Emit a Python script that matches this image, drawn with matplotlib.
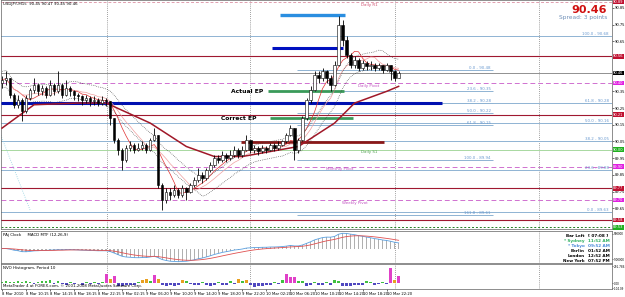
import matplotlib
matplotlib.use('Agg')
import matplotlib.pyplot as plt
import matplotlib.transforms as mtransforms
import numpy as np
import pandas as pd

''' USDJPY chart with levels, MACD MTF and NVO histogram '''

open0 = 90.40
close = [90.42, 90.43, 90.33, 90.27, 90.30, 90.23, 90.31, 90.36, 90.39, 90.35,
         90.37, 90.33, 90.39, 90.35, 90.39, 90.33, 90.37, 90.35, 90.33, 90.32,
         90.30, 90.31, 90.29, 90.30, 90.28, 90.30, 90.29, 90.19, 90.06, 90.00,
         89.94, 90.01, 90.03, 90.00, 90.01, 90.03, 90.00, 90.06, 90.09, 89.79,
         89.70, 89.75, 89.73, 89.76, 89.73, 89.77, 89.75, 89.79, 89.82, 89.85,
         89.83, 89.88, 89.91, 89.95, 89.94, 89.97, 89.95, 89.97, 90.00, 89.97,
         90.00, 90.06, 90.00, 90.01, 89.99, 90.01, 90.00, 90.03, 90.01, 90.03,
         90.05, 90.09, 90.13, 90.00, 90.06, 90.19, 90.30, 90.36, 90.45, 90.43,
         90.47, 90.43, 90.39, 90.51, 90.75, 90.66, 90.57, 90.51, 90.54, 90.49,
         90.52, 90.50, 90.51, 90.49, 90.51, 90.48, 90.51, 90.47, 90.43, 90.46]
high = [90.44, 90.47, 90.43, 90.34, 90.33, 90.31, 90.33, 90.37, 90.43, 90.40,
        90.39, 90.38, 90.42, 90.40, 90.47, 90.40, 90.42, 90.38, 90.36, 90.34,
        90.33, 90.33, 90.32, 90.32, 90.31, 90.32, 90.31, 90.29, 90.19, 90.07,
        90.01, 90.03, 90.05, 90.04, 90.04, 90.05, 90.04, 90.07, 90.13, 90.09,
        89.80, 89.77, 89.77, 89.79, 89.77, 89.79, 89.78, 89.80, 89.84, 89.89,
        89.87, 89.89, 89.93, 89.97, 89.97, 89.99, 89.98, 90.00, 90.02, 90.01,
        90.02, 90.09, 90.06, 90.03, 90.02, 90.03, 90.02, 90.04, 90.04, 90.05,
        90.06, 90.10, 90.15, 90.13, 90.07, 90.20, 90.31, 90.38, 90.47, 90.47,
        90.49, 90.48, 90.45, 90.53, 90.80, 90.78, 90.68, 90.58, 90.56, 90.55,
        90.54, 90.53, 90.53, 90.52, 90.52, 90.51, 90.52, 90.51, 90.48, 90.47]
low = [90.37, 90.39, 90.31, 90.25, 90.25, 90.17, 90.22, 90.30, 90.34, 90.33,
       90.33, 90.31, 90.32, 90.33, 90.34, 90.31, 90.32, 90.32, 90.30, 90.29,
       90.27, 90.28, 90.26, 90.27, 90.26, 90.27, 90.26, 90.15, 90.04, 89.97,
       89.88, 89.93, 89.99, 89.98, 89.99, 90.00, 89.98, 89.99, 90.05, 89.77,
       89.64, 89.68, 89.70, 89.72, 89.71, 89.72, 89.70, 89.74, 89.78, 89.81,
       89.80, 89.82, 89.87, 89.90, 89.92, 89.93, 89.93, 89.94, 89.96, 89.95,
       89.96, 89.99, 89.98, 89.98, 89.97, 89.98, 89.98, 89.99, 89.99, 90.00,
       90.02, 90.04, 90.08, 89.94, 89.98, 90.05, 90.18, 90.28, 90.35, 90.40,
       90.41, 90.40, 90.35, 90.38, 90.50, 90.62, 90.55, 90.49, 90.49, 90.47,
       90.48, 90.48, 90.48, 90.47, 90.48, 90.46, 90.47, 90.42, 90.41, 90.43]

# slow moving average (candle index, price)
slow_ma_idx = [0, 8, 19, 26, 37, 46, 53, 60, 74, 83, 88, 96, 99]
slow_ma_val = [90.13, 90.27, 90.28, 90.28, 90.16, 90.02, 89.96, 89.96, 90.02, 90.16, 90.28, 90.35, 90.38]

nvo = [25, 30, 15, 20, 35, 20, 30, 25, -10, 15,
       40, 35, 45, -15, 30, -10, -20, 15, -15, 10,
       -20, 20, -10, 15, -5, 20, 150, 60, 110, -40,
       -50, -30, -20, -25, 15, 50, 70, 40, 130, 60,
       -30, -45, -35, -40, -20, 55, 30, -15, -30, -25,
       20, -35, -40, -30, 25, -20, -35, 30, -15, 65,
       40, 55, -20, -55, -50, -40, -25, -20, 15, -15,
       45, 150, 100, 95, 40, 30, -40, -30, 20, -35,
       -25, 25, -20, 45, 35, -40, -45, -40, -35, -30,
       -20, 30, 25, -25, -15, 20, -10, 240, 50, 115]

time_labels = ['8 Mar 2010', '8 Mar 10:15', '8 Mar 14:15', '8 Mar 18:15', '8 Mar 22:15',
               '9 Mar 02:15', '9 Mar 06:20', '9 Mar 10:20', '9 Mar 14:20', '9 Mar 18:20',
               '9 Mar 22:20', '10 Mar 02:20', '10 Mar 06:20', '10 Mar 10:20', '10 Mar 14:20',
               '10 Mar 18:20', '10 Mar 22:20']
day_breaks = [26.25, 62, 98, 134]

sr_levels = [90.56, 90.21, 89.77, 89.58]
pivot_names = ['Daily Pivot', 'Monthly Pivot', 'Weekly Pivot']
pivot_levels = [90.40, 89.90, 89.70]
daily_s1 = 90.00
daily_r1 = 90.885
bid = 90.46
blue_level = 90.28
fib_left_pct = ['0.0', '23.6', '38.2', '50.0', '61.8', '100.0', '161.8']
fib_left_px = [90.48, 90.35, 90.28, 90.22, 90.15, 89.94, 89.61]
fib_right_pct = ['100.0', '61.8', '50.0', '38.2', '23.6', '0.0']
fib_right_px = [90.68, 90.28, 90.16, 90.05, 89.88, 89.63]
actual_ep = 90.35
correct_ep = 90.19
red_zone = 90.045
navy_zone = 90.61
sky_zone = 90.81

clock_names = ['Bar Left', '* Sydney', '* Tokyo', 'Berlin', 'London', 'New York']
clock_times = ['[ 07:08 ]', '11:52 AM', '09:52 AM', '01:52 AM', '12:52 AM', '07:52 PM']

W, H = 625, 297
def fy(y):
    return 1 - y / H

fig = plt.figure(figsize=(W / 100, H / 100), dpi=100)
ax = fig.add_axes([1 / W, fy(229), 611 / W, 229 / H])
ax2 = fig.add_axes([1 / W, fy(263), 611 / W, 32 / H], sharex=ax)
ax3 = fig.add_axes([1 / W, fy(289), 611 / W, 25 / H], sharex=ax)

fs = 3.4
afs = 2.6
xl = (-0.25, 152.25)
n = len(close)
idx = np.arange(n)
c = np.array(close)
o = np.array([open0] + close[:-1])

for a in (ax, ax2, ax3):
    for s in a.spines.values():
        s.set_linewidth(0.5)
        s.set_color('#606060')
    a.yaxis.tick_right()
    a.tick_params(axis='y', labelsize=afs, length=1.2, width=0.4, pad=0.6)
    a.tick_params(axis='x', length=0)
    for d in day_breaks:
        a.axvline(d, color='#808080', lw=0.6, ls=(0, (1, 1.5)), zorder=1)
ax2.tick_params(axis='y', labelsize=2.0, pad=0.3, length=0.8)
ax3.tick_params(axis='y', labelsize=2.0, pad=0.3, length=0.8)
ax.set_xlim(*xl)
ax.set_ylim(89.526, 90.897)
tags = [(90.885, '#c01030'), (90.56, '#c01030'), (bid, 'black'), (90.40, '#e020e0'),
        (90.21, '#c01030'), (90.00, '#20b020'), (89.90, '#e020e0'), (89.77, '#c01030'),
        (89.70, '#e020e0'), (89.58, '#c01030'), (89.535, '#20b020')]
ticks = [t for t in np.arange(89.55, 90.86, 0.10)
         if min(abs(t - p) for p, _ in tags) > 0.018]
ax.set_yticks(ticks)
ax.yaxis.set_major_formatter(plt.FormatStrFormatter('%.2f'))
plt.setp(ax.get_xticklabels(), visible=False)
plt.setp(ax2.get_xticklabels(), visible=False)

# full-width levels
for p in fib_right_px:
    ax.axhline(p, color='#8fb3d3', lw=0.7, zorder=2)
for p in sr_levels:
    ax.axhline(p, color='#a01830', lw=0.8, zorder=2)
for p in pivot_levels:
    ax.axhline(p, color='#d070d0', lw=0.7, ls=(0, (5, 3)), zorder=2)
ax.axhline(daily_s1, color='#a8d8a0', lw=0.7, zorder=2)
ax.axhline(daily_r1, color='#e0a0b0', lw=0.7, ls=(0, (3, 2)), zorder=2)
ax.axhline(89.535, color='#208020', lw=0.7, ls=(0, (2, 2)), zorder=2)
ax.axhline(bid, color='#909090', lw=0.7, zorder=2)
ax.hlines(blue_level, -0.25, 109.75, color='#0010b0', lw=2.2, zorder=3)

# fib left set
ax.hlines(fib_left_px, 73.75, 122.5, color='#8fb3d3', lw=0.7, zorder=2)
for pct, p in zip(fib_left_pct, fib_left_px):
    ax.text(122, p, f'{pct} - {p:.2f}', color='#6a9ad0', fontsize=fs - 0.5,
            ha='right', va='bottom', zorder=5)
for pct, p in zip(fib_right_pct, fib_right_px):
    ax.text(151.5, p, f'{pct} - {p:.2f}', color='#6a9ad0', fontsize=fs - 0.5,
            ha='right', va='bottom', zorder=5)

# trendline
ax.plot([-0.5, 7], [90.10, 89.64], color='#90d0e0', lw=0.6, ls=':', zorder=2)

# thick zones
ax.hlines(sky_zone, 69.5, 85.5, color='#2a8ee0', lw=2.4, zorder=3)
ax.hlines(navy_zone, 67.5, 85, color='#0010c0', lw=2.2, zorder=3)
ax.hlines(actual_ep, 66.5, 85.25, color='#3a9a5a', lw=2.0, zorder=3)
ax.hlines(correct_ep, 67, 87.5, color='#3a9a5a', lw=2.0, zorder=3)
ax.hlines(red_zone, 59.75, 95.25, color='#8a1818', lw=2.0, zorder=3)
ax.text(65.25, actual_ep, 'Actual EP', fontsize=4.3, fontweight='bold', ha='right', va='center', zorder=6)
ax.text(63.5, correct_ep, 'Correct EP', fontsize=4.3, fontweight='bold', ha='right', va='center', zorder=6)

ax.text(89.5, daily_r1 - 0.004, 'Daily R1', color='#d05070', fontsize=fs - 0.5, ha='left', va='top')
ax.text(88.75, pivot_levels[0] - 0.004, 'Daily Pivot', color='#c050c0', fontsize=fs - 0.5, ha='left', va='top')
ax.text(89.5, daily_s1 - 0.004, 'Daily S1', color='#50a050', fontsize=fs - 0.5, ha='left', va='top')
ax.text(80.75, pivot_levels[1] - 0.004, 'Monthly Pivot', color='#c050c0', fontsize=fs - 0.5, ha='left', va='top')
ax.text(84.75, pivot_levels[2] - 0.004, 'Weekly Pivot', color='#c050c0', fontsize=fs - 0.5, ha='left', va='top')

# moving averages
cs = pd.Series(c)
ma_fast = cs.rolling(6, min_periods=1).mean()
ma_mid = cs.rolling(10, min_periods=1).mean()
ma_env = cs.rolling(12, min_periods=1).mean()
ax.plot(idx, ma_fast, color='#e03030', lw=0.5, zorder=4)
ax.plot(idx, ma_mid, color='#f0a0a0', lw=0.5, zorder=4)
ax.plot(idx, ma_env + 0.05, color='#404040', lw=0.5, ls=':', zorder=4)
ax.plot(idx, ma_env - 0.05, color='#404040', lw=0.5, ls=':', zorder=4)
ax.plot(slow_ma_idx, slow_ma_val, color='#a01828', lw=1.1, zorder=4)

# candles
ax.vlines(idx, low, high, color='black', lw=0.6, zorder=5)
up = c >= o
ax.bar(idx[up], (c - o)[up], bottom=o[up], width=0.6, color='white', edgecolor='black', lw=0.4, zorder=6)
ax.bar(idx[~up], (c - o)[~up], bottom=o[~up], width=0.6, color='black', edgecolor='black', lw=0.4, zorder=6)

# price tags on the axis
trans = mtransforms.blended_transform_factory(ax.transAxes, ax.transData)
for p, col in tags:
    ax.text(1.002, p, f'{p:.2f}', transform=trans, fontsize=afs, color='white',
            ha='left', va='center', clip_on=False, zorder=7,
            bbox=dict(boxstyle='square,pad=0.12', fc=col, ec='none'))

ax.text(0.004, 0.992, 'USDJPY,M15  90.45 90.47 90.45 90.46', transform=ax.transAxes,
        fontsize=fs - 0.6, ha='left', va='top')
fig.text(607 / W, fy(10), '90.46', color='#d01010', fontsize=8, fontweight='bold', ha='right', va='center')
fig.text(607 / W, fy(17), 'Spread: 3 points', color='#7090b8', fontsize=4.2, ha='right', va='center')

# MACD MTF
ema12 = cs.ewm(span=12, adjust=False).mean()
ema26 = cs.ewm(span=26, adjust=False).mean()
macd = ema12 - ema26
signal = macd.ewm(span=9, adjust=False).mean()
ax2.bar(idx, macd, width=0.35, color='#b0b0b0', zorder=2)
ax2.plot(idx, macd, color='#5aa0e0', lw=0.6, zorder=3)
ax2.plot(idx, signal, color='#e05050', lw=0.6, zorder=3)
lo, hi = macd.min() * 1.1, macd.max() * 1.15
ax2.set_ylim(lo, hi)
ax2.set_yticks([hi * 0.85, lo * 0.75])
ax2.set_yticklabels(['900000', '-900000'])
ax2.text(0.004, 0.95, 'PAj Clock     MACD MTF (12,26,9)', transform=ax2.transAxes,
         fontsize=fs - 0.5, ha='left', va='top')
cols = ['black', '#30b060', '#4a8ad8', 'black', 'black', 'black']
for k, (nm, tm) in enumerate(zip(clock_names, clock_times)):
    yy = fy(236 + 5 * k)
    fig.text(585 / W, yy, nm, color=cols[k], fontsize=3.0, fontweight='bold', ha='right', va='center')
    fig.text(588 / W, yy, tm, color=cols[k], fontsize=3.0, fontweight='bold', ha='left', va='center')

# NVO histogram
nv = np.array(nvo)
ncol = np.where(nv < 0, '#5048c0', np.where(nv < 50, '#40c040', np.where(nv < 90, '#e8a020', '#e040c8')))
ax3.bar(idx, nv, width=0.7, color=ncol, zorder=2)
ax3.set_ylim(-90, 300)
ax3.set_yticks([265, 0, -80])
ax3.set_yticklabels(['291.786', '0.00', '-104.09'])
ax3.text(0.004, 0.93, 'NVO Histogram, Period 10', transform=ax3.transAxes,
         fontsize=fs - 0.5, ha='left', va='top')
ax3.text(0.004, 0.02, 'MetaTrader 4 at FOREX.com, \u00a9 2001-2008 MetaQuotes Software Corp.',
         transform=ax3.transAxes, fontsize=fs - 0.6, ha='left', va='bottom', zorder=5)
ax3.set_xticks(np.arange(len(time_labels)) * 6)
ax3.set_xticklabels(time_labels, fontsize=2.7, ha='left')
ax3.tick_params(axis='x', length=1.2, width=0.4, pad=0.8)

fig.savefig('out.png', dpi=100, facecolor='white')
